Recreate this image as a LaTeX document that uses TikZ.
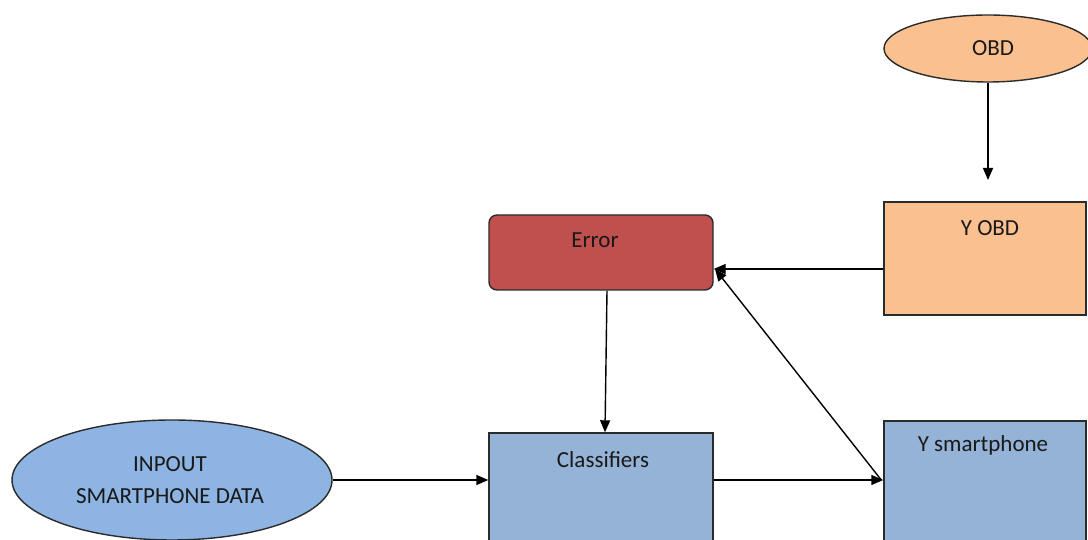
\documentclass[tikz,border=0pt]{standalone}
\usepackage{fontspec}
\setmainfont{Carlito}
\usetikzlibrary{arrows.meta,shapes.geometric}
\definecolor{orangefill}{HTML}{FAC090}
\definecolor{redfill}{HTML}{C0504D}
\definecolor{bluebox}{HTML}{95B3D7}
\definecolor{blueoval}{HTML}{8DB4E2}
\definecolor{edge}{HTML}{2B2B2B}
\tikzset{
  shapeline/.style={draw=edge, line width=1.4pt},
  oval/.style={shapeline, ellipse, inner sep=0pt},
  box/.style={shapeline, rectangle, inner sep=0pt},
  boxtext/.style={font=\fontsize{23}{32}\selectfont, text=black!90},
  arr/.style={line width=1.4pt, -{Triangle[length=12pt,width=10pt]}}
}
\begin{document}
\begin{tikzpicture}[x=1pt,y=1pt]
\useasboundingbox (0,0) rectangle (1088,540);
\clip (0,0) rectangle (1088,540);

% ovals
\node[oval, fill=orangefill, minimum width=208, minimum height=67] (obd) at (988,491.5) {};
\node[boxtext] at (993,492) {OBD};
\node[oval, fill=blueoval, minimum width=320, minimum height=120] (input) at (172,60) {};
\node[boxtext, align=center] at (170,60) {INPOUT\\SMARTPHONE DATA};

% boxes
\node[box, fill=orangefill, minimum width=202, minimum height=113] (yobd) at (985,281.5) {};
\node[boxtext] at (990,312) {Y OBD};
\node[box, fill=redfill, rounded corners=8pt, minimum width=224, minimum height=75] (error) at (601,287.5) {};
\node[boxtext] at (595,300) {Error};
\node[box, fill=bluebox, minimum width=224, minimum height=130] (cls) at (601,42) {};
\node[boxtext] at (603,80) {Classifiers};
\node[box, fill=bluebox, minimum width=202, minimum height=140] (ysm) at (985,49) {};
\node[boxtext] at (983,95) {Y smartphone};

% connectors
\coordinate (obdtip) at (988,360);
\draw[arr] (obd.south) -- (obdtip);
\coordinate (yobdout) at ([yshift=-10.5pt]yobd.west);
\draw[arr] (yobdout) -- (yobdout -| error.east);
\draw[arr] ([xshift=6pt]error.south) -- ([xshift=4pt]cls.north);
\draw[arr] (input.east) -- (input.east -| cls.west);
\draw[arr] (input.east -| cls.east) -- (input.east -| ysm.west);
\coordinate (errcorner) at (715,271);
\draw[arr] ([xshift=-2pt]input.east -| ysm.west) -- (errcorner);
\end{tikzpicture}
\end{document}
